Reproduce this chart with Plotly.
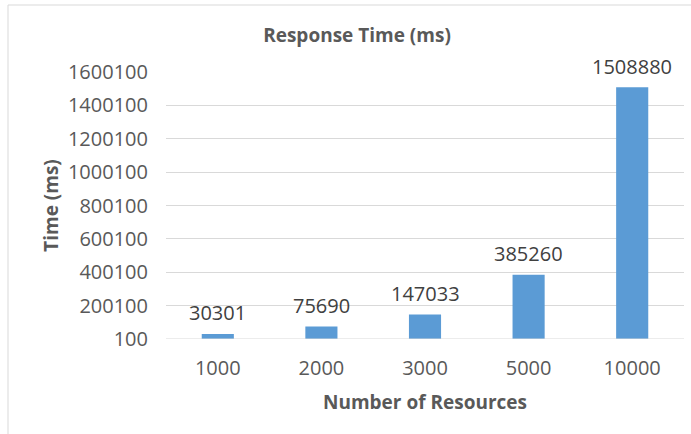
import plotly.graph_objects as go

categories = ["1000", "2000", "3000", "5000", "10000"]
response_ms = [30301, 75690, 147033, 385260, 1508880]
y_ticks = [100, 200100, 400100, 600100, 800100, 1000100, 1200100, 1400100, 1600100]

FONT = "Open Sans, sans-serif"
W, H = 691, 434
L, R, T, B = 166, 7, 72, 95

fig = go.Figure(go.Bar(
    x=categories, y=[v - 100 for v in response_ms], base=100,
    marker=dict(color="#5B9BD5", line=dict(width=0)),
    width=0.31,
    hoverinfo="x+y",
))

for i, v in enumerate(response_ms):
    fig.add_annotation(x=i, y=v, xref="x", yref="y", text=str(v), showarrow=False,
                       yanchor="middle", yshift=21,
                       font=dict(family=FONT, size=20, color="#404040"))

fig.update_layout(
    width=W, height=H,
    margin=dict(l=L, r=R, t=T, b=B),
    paper_bgcolor="white", plot_bgcolor="white",
    showlegend=False,
    title=dict(text="<b>Response Time (ms)</b>", x=357 / W, xanchor="center",
               y=1 - 35 / H, yanchor="middle",
               font=dict(family=FONT, size=19, color="#595959")),
    xaxis=dict(
        type="category", categoryorder="array", categoryarray=categories,
        range=[-0.5, len(categories) - 0.5], autorange=False,
        showgrid=False, showline=False, ticks="",
        tickfont=dict(family=FONT, size=20, color="#595959"),
        ticklabelstandoff=15,
        title=dict(text="<b>Number of Resources</b>", standoff=15,
                   font=dict(family=FONT, size=19, color="#595959")),
    ),
    yaxis=dict(
        range=[100, 1600100], autorange=False,
        tickvals=y_ticks, ticktext=[str(v) for v in y_ticks],
        showgrid=True, gridcolor="#D9D9D9", gridwidth=1,
        zeroline=False, showline=False, ticks="",
        tickfont=dict(family=FONT, size=20, color="#595959"),
        ticklabelstandoff=17,
        title=dict(text="<b>Time (ms)</b>", standoff=4,
                   font=dict(family=FONT, size=19, color="#595959")),
    ),
)

# baseline (100) gridline
fig.add_shape(type="line", xref="paper", yref="y", x0=0, x1=1, y0=100, y1=100,
              line=dict(color="#D9D9D9", width=1))

# outer chart border (light gray) - top and left edges
pw = W - L - R
ph = H - T - B
x_left = (8 - L) / pw
y_top = (H - 5 - B) / ph
fig.add_shape(type="line", xref="paper", yref="paper", x0=x_left, x1=(W - L) / pw + 0.01,
              y0=y_top, y1=y_top, line=dict(color="#D9D9D9", width=1))
fig.add_shape(type="line", xref="paper", yref="paper", x0=x_left, x1=x_left,
              y0=y_top, y1=-B / ph - 0.01, line=dict(color="#D9D9D9", width=1))

fig.write_html("out.html", config={"displayModeBar": False},
               post_script="document.body.style.margin='0';document.body.style.overflow='hidden';")
